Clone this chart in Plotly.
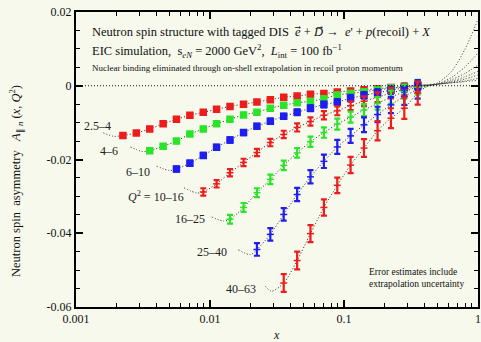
import plotly.graph_objects as go

# x bin centres (Bjorken x)
x_bins = [0.00224, 0.00282, 0.00355, 0.00447, 0.00562, 0.00708, 0.00891, 0.0112,
          0.0141, 0.0178, 0.0224, 0.0282, 0.0355, 0.0447, 0.0562, 0.0708, 0.0891,
          0.112, 0.141, 0.178, 0.224, 0.282, 0.355]

series_names = ["2.5–4", "4–6", "6–10", "10–16", "16–25", "25–40", "40–63"]
series_colors = ["#ee1c1c", "#2ae42a", "#1e1ef0", "#ee1c1c", "#2ae42a", "#1e1ef0", "#ee1c1c"]
series_symbols = ["square", "square", "square", "line-ew", "line-ew", "line-ew", "line-ew"]
first_bin = [0, 2, 4, 6, 8, 10, 12]

a_q2_2p5_4 = [-0.0135, -0.0128, -0.0117, -0.0103, -0.0091, -0.0080, -0.0072, -0.0064,
              -0.0056, -0.0050, -0.0044, -0.0038, -0.0031, -0.0028, -0.0023, -0.0021,
              -0.0017, -0.0014, -0.0011, -0.0008, -0.0005, -0.0002, 0.0002]
a_q2_4_6 = [-0.0176, -0.0164, -0.0150, -0.0131, -0.0117, -0.0103, -0.0091, -0.0079,
            -0.0072, -0.0061, -0.0053, -0.0046, -0.0042, -0.0035, -0.0025, -0.0021,
            -0.0016, -0.0011, -0.0007, -0.0003, 0.0001]
a_q2_6_10 = [-0.0226, -0.0210, -0.0189, -0.0167, -0.0147, -0.0127, -0.0110, -0.0096,
             -0.0083, -0.0072, -0.0061, -0.0051, -0.0044, -0.0034, -0.0026, -0.0019,
             -0.0012, -0.0006, 0.0000]
a_q2_10_16 = [-0.0288, -0.0266, -0.0236, -0.0208, -0.0181, -0.0154, -0.0132, -0.0113,
              -0.0097, -0.0080, -0.0068, -0.0054, -0.0042, -0.0031, -0.0020, -0.0010,
              -0.0002]
a_q2_16_25 = [-0.0362, -0.0330, -0.0290, -0.0254, -0.0216, -0.0182, -0.0152, -0.0127,
              -0.0104, -0.0085, -0.0066, -0.0048, -0.0031, -0.0016, -0.0004]
a_q2_25_40 = [-0.0444, -0.0403, -0.0349, -0.0295, -0.0247, -0.0205, -0.0166, -0.0136,
              -0.0106, -0.0078, -0.0052, -0.0029, -0.0010]
a_q2_40_63 = [-0.0535, -0.0474, -0.0401, -0.0330, -0.0270, -0.0215, -0.0169, -0.0122,
              -0.0088, -0.0061, -0.0020]
series_values = [a_q2_2p5_4, a_q2_4_6, a_q2_6_10, a_q2_10_16, a_q2_16_25, a_q2_25_40, a_q2_40_63]

e_q2_2p5_4 = [0.0004, 0.0004, 0.0004, 0.0004, 0.0004, 0.0004, 0.0004, 0.0004, 0.0004,
              0.0004, 0.0004, 0.0004, 0.0004, 0.0004, 0.0005, 0.0005, 0.0005, 0.0005,
              0.0006, 0.0006, 0.0007, 0.0008, 0.0009]
e_q2_4_6 = [0.0005, 0.0005, 0.0005, 0.0005, 0.0005, 0.0005, 0.0005, 0.0005, 0.0005,
            0.0005, 0.0005, 0.0006, 0.0006, 0.0006, 0.0006, 0.0007, 0.0007, 0.0008,
            0.0008, 0.0009, 0.0010]
e_q2_6_10 = [0.0007, 0.0007, 0.0007, 0.0007, 0.0007, 0.0007, 0.0007, 0.0007, 0.0007,
             0.0008, 0.0008, 0.0008, 0.0008, 0.0009, 0.0009, 0.0010, 0.0010, 0.0011,
             0.0012]
e_q2_10_16 = [0.0010, 0.0010, 0.0010, 0.0010, 0.0010, 0.0010, 0.0010, 0.0011, 0.0011,
              0.0011, 0.0012, 0.0012, 0.0013, 0.0013, 0.0014, 0.0015, 0.0016]
e_q2_16_25 = [0.0012, 0.0012, 0.0012, 0.0013, 0.0013, 0.0013, 0.0014, 0.0014, 0.0015,
              0.0015, 0.0016, 0.0017, 0.0018, 0.0019, 0.0020]
e_q2_25_40 = [0.0017, 0.0017, 0.0017, 0.0018, 0.0018, 0.0018, 0.0019, 0.0019, 0.0020,
              0.0021, 0.0022, 0.0023, 0.0025]
e_q2_40_63 = [0.0024, 0.0024, 0.0023, 0.0022, 0.0021, 0.0022, 0.0024, 0.0026, 0.0027,
              0.0029, 0.0031]
series_errors = [e_q2_2p5_4, e_q2_4_6, e_q2_6_10, e_q2_10_16, e_q2_16_25, e_q2_25_40, e_q2_40_63]

# theory curves: low-x start and minimum, then high-x tail beyond the data
curve_left_x = [[0.0016, 0.0019], [0.00255, 0.0031], [0.0040, 0.0050], [0.0064, 0.0080],
                [0.0103, 0.0127], [0.0163, 0.0200], [0.0259, 0.0288]]
curve_left_y = [[-0.0128, -0.0137], [-0.0166, -0.0178], [-0.0218, -0.0230], [-0.0277, -0.0291],
                [-0.0356, -0.0367], [-0.0445, -0.0458], [-0.0544, -0.0557]]
tail_x = [0.42, 0.501, 0.631, 0.794, 1.0]
tail_y = [[0.0003, 0.0005, 0.0008, 0.0011, 0.0015],
          [0.0002, 0.0004, 0.0008, 0.0013, 0.0020],
          [0.0001, 0.0004, 0.0010, 0.0018, 0.0029],
          [0.0001, 0.0004, 0.0012, 0.0024, 0.0039],
          [0.0000, 0.0005, 0.0016, 0.0033, 0.0056],
          [-0.0001, 0.0005, 0.0022, 0.0050, 0.0089],
          [-0.0001, 0.0008, 0.0038, 0.0097, 0.0180]]

x_ticks = [0.001, 0.01, 0.1, 1]
x_tick_text = ["0.001", "0.01", "0.1", "1"]
y_ticks = [-0.06, -0.04, -0.02, 0, 0.02]
y_tick_text = ["-0.06", "-0.04", "-0.02", "0", "0.02"]

FONT = "Liberation Serif, Times New Roman, serif"
BG = "#f6f9ec"

fig = go.Figure()

for i in range(len(series_names)):
    xs = x_bins[first_bin[i]:]
    ys = series_values[i]
    cx = curve_left_x[i] + xs + tail_x
    cy = curve_left_y[i] + ys + tail_y[i]
    fig.add_trace(go.Scatter(x=cx, y=cy, mode="lines",
                             line=dict(color="#333333", width=1, dash="1px,2px", shape="spline", smoothing=0.8),
                             hoverinfo="skip", showlegend=False))

for i in range(len(series_names)):
    xs = x_bins[first_bin[i]:]
    ys = series_values[i]
    c = series_colors[i]
    sym = series_symbols[i]
    msize = 6 if sym == "square" else 5
    fig.add_trace(go.Scatter(x=xs, y=ys, mode="markers", name=series_names[i],
                             marker=dict(symbol=sym, size=msize, color=c, line=dict(color=c, width=1.5)),
                             error_y=dict(type="data", array=series_errors[i], color=c, thickness=2.2, width=3),
                             showlegend=False))

fig.add_shape(type="line", xref="paper", x0=0, x1=1, yref="y", y0=0, y1=0,
              line=dict(color="#111111", width=1, dash="1px,2px"))

# series labels
label_pos_x = [-2.842, -2.752, -2.534, -2.406, -2.15, -1.985, -1.767]
label_pos_y = [-0.0110, -0.0177, -0.0235, -0.0300, -0.0362, -0.0452, -0.0550]
label_text = ["2.5–4", "4–6", "6–10", "<i>Q</i><sup>2</sup> = 10–16", "16–25", "25–40", "40–63"]
for lx, ly, t in zip(label_pos_x, label_pos_y, label_text):
    fig.add_annotation(x=lx, y=ly, text=t, showarrow=False, xanchor="center", yanchor="middle",
                       font=dict(family=FONT, size=12, color="#222"))

def px(xp):
    return (xp - 76) / 402

def py(yp):
    return (307 - yp) / 295

fig.add_annotation(xref="paper", yref="paper", x=px(90), y=py(32), xanchor="left", yanchor="middle",
                   text="Neutron spin structure with tagged DIS  <i>e</i>\u20d7 + <i>D</i>\u20d7 \u2192  <i>e</i>' + <i>p</i>(recoil) + <i>X</i>",
                   showarrow=False, font=dict(family=FONT, size=12.5, color="#111"))
fig.add_annotation(xref="paper", yref="paper", x=px(90), y=py(51), xanchor="left", yanchor="middle",
                   text="EIC simulation,  s<sub><i>eN</i></sub> = 2000 GeV<sup>2</sup>,  <i>L</i><sub>int</sub> = 100 fb<sup>\u22121</sup>",
                   showarrow=False, font=dict(family=FONT, size=12.5, color="#111"))
fig.add_annotation(xref="paper", yref="paper", x=px(90), y=py(68), xanchor="left", yanchor="middle",
                   text="Nuclear binding eliminated through on-shell extrapolation in recoil proton momentum",
                   showarrow=False, font=dict(family=FONT, size=9, color="#111"))
fig.add_annotation(xref="paper", yref="paper", x=px(367), y=py(278), xanchor="left", yanchor="middle",
                   text="Error estimates include<br>extrapolation uncertainty", align="left",
                   showarrow=False, font=dict(family=FONT, size=9.5, color="#111"))
fig.add_annotation(xref="paper", yref="paper", x=(16 - 76) / 402, y=py(181), xanchor="center", yanchor="middle",
                   textangle=-90,
                   text="Neutron spin  asymmetry   <i>A</i><sub>\u2225 <i>n</i></sub> (<i>x</i>, <i>Q</i><sup>2</sup>)",
                   showarrow=False, font=dict(family=FONT, size=12.5, color="#111"))
fig.add_annotation(xref="paper", yref="paper", x=px(276), y=py(335), xanchor="center", yanchor="middle",
                   text="<i>x</i>", showarrow=False, font=dict(family=FONT, size=12, color="#111"))

minor_x = [m * 10 ** e for e in (-3, -2, -1) for m in range(2, 10)]

fig.update_xaxes(type="log", range=[-3, 0], tickvals=x_ticks, ticktext=x_tick_text,
                 showline=True, linewidth=2, linecolor="black", mirror="ticks",
                 ticks="inside", ticklen=7, tickwidth=1.5, tickcolor="black",
                 minor=dict(tickvals=minor_x, ticks="inside", ticklen=4, tickwidth=1, tickcolor="black"),
                 showgrid=False, zeroline=False, automargin=False,
                 tickfont=dict(family=FONT, size=12, color="#111"))
fig.update_yaxes(range=[-0.06, 0.02], tickvals=y_ticks, ticktext=y_tick_text,
                 showline=True, linewidth=2, linecolor="black", mirror="ticks",
                 ticks="inside", ticklen=7, tickwidth=1.5, tickcolor="black",
                 minor=dict(dtick=0.005, ticks="inside", ticklen=4, tickwidth=1, tickcolor="black", showgrid=False),
                 showgrid=False, zeroline=False, automargin=False,
                 tickfont=dict(family=FONT, size=12, color="#111"))

fig.update_layout(width=481, height=342, margin=dict(l=76, r=3, t=12, b=35, autoexpand=False),
                  paper_bgcolor=BG, plot_bgcolor=BG, showlegend=False)

fig.write_html("out.html", config={"displayModeBar": False},
               post_script="document.body.style.margin='0px';document.body.style.background='" + BG + "';")
